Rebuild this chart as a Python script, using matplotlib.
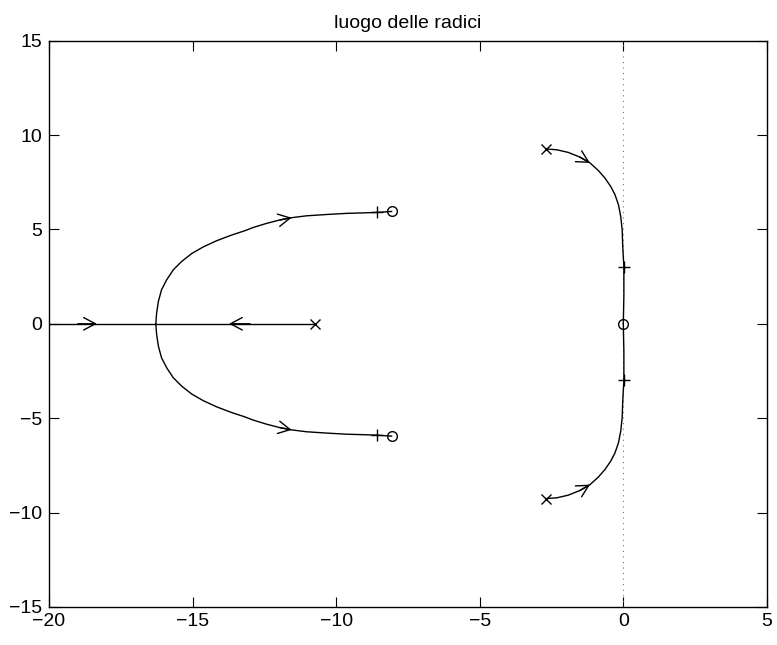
import matplotlib
matplotlib.use("Agg")
import matplotlib.pyplot as plt

plt.rcParams['font.family'] = ['Liberation Sans', 'DejaVu Sans']

title = "luogo delle radici"

# poles, zeros, gain markers
poles_re = [-10.75, -2.70, -2.70]
poles_im = [0.0, 9.26, -9.26]
zeros_re = [-8.07, -8.07, 0.0]
zeros_im = [5.95, -5.95, 0.0]
plus_re = [-8.59, -8.59, 0.02, 0.02]
plus_im = [5.90, -5.90, 3.0, -3.0]

# real-axis branch (from -inf and from pole to breakaway)
real_x = [-20.0, -10.75]
real_y = [0.0, 0.0]

# complex branch from breakaway to zero at -8.07+5.95j (upper half)
left_re = [-16.28, -16.25, -16.19, -16.08, -15.90, -15.67, -15.38, -15.03,
           -14.63, -14.16, -13.64, -13.18, -12.89, -12.42, -11.96, -11.55,
           -11.03, -10.33, -9.63, -8.94, -8.59, -8.07]
left_im = [0.0, 0.57, 1.18, 1.80, 2.33, 2.86, 3.30, 3.72,
           4.07, 4.40, 4.70, 4.93, 5.10, 5.32, 5.50, 5.62,
           5.72, 5.79, 5.85, 5.88, 5.90, 5.95]

# branch from pole -2.70+9.26j to zero at origin (upper half)
right_re = [-2.70, -2.32, -1.92, -1.51, -1.16, -0.87, -0.64, -0.44,
            -0.29, -0.17, -0.09, -0.04, -0.02, 0.02, 0.02, 0.0]
right_im = [9.26, 9.22, 9.08, 8.83, 8.52, 8.12, 7.72, 7.28,
            6.84, 6.31, 5.69, 4.98, 4.10, 3.0, 1.5, 0.0]

# arrow tips and the points they come from (direction)
arrow_tip_x = [-18.33, -13.73, -11.55, -11.55, -1.16, -1.16]
arrow_tip_y = [0.0, 0.0, 5.62, -5.62, 8.52, -8.52]
arrow_from_x = [-19.0, -13.0, -11.96, -11.96, -1.51, -1.51]
arrow_from_y = [0.0, 0.0, 5.50, -5.50, 8.83, -8.83]

xlim = (-20, 5)
ylim = (-15, 15)
xticks = [-20, -15, -10, -5, 0, 5]
yticks = [-15, -10, -5, 0, 5, 10, 15]

fig = plt.figure(figsize=(7.77, 6.45), dpi=100)
ax = fig.add_axes([0.063, 0.059, 0.924, 0.878])

lw = 1.0
ax.plot([0, 0], ylim, color='0.45', lw=0.8, linestyle=(0, (1, 4)))
ax.plot(real_x, real_y, color='k', lw=lw)
ax.plot(left_re, left_im, color='k', lw=lw)
ax.plot(left_re, [-v for v in left_im], color='k', lw=lw)
ax.plot(right_re, right_im, color='k', lw=lw)
ax.plot(right_re, [-v for v in right_im], color='k', lw=lw)

ax.plot(poles_re, poles_im, 'x', color='k', ms=7, mew=1.0)
ax.plot(zeros_re, zeros_im, 'o', mfc='none', mec='k', ms=7, mew=1.0)
ax.plot(plus_re, plus_im, '+', color='k', ms=9, mew=1.0)

for tx, ty, fx, fy in zip(arrow_tip_x, arrow_tip_y, arrow_from_x, arrow_from_y):
    ax.annotate('', xy=(tx, ty), xytext=(fx, fy),
                arrowprops=dict(arrowstyle='->,head_length=0.85,head_width=0.45',
                                color='k', lw=1.0, shrinkA=0, shrinkB=0))

ax.set_xlim(*xlim)
ax.set_ylim(*ylim)
ax.set_xticks(xticks)
ax.set_yticks(yticks)
ax.tick_params(direction='in', length=7, width=0.8, top=True, right=True,
               labelsize=14)
ax.tick_params(axis='x', pad=4)
ax.tick_params(axis='y', pad=5)
for s in ax.spines.values():
    s.set_linewidth(1.0)
ax.set_title(title, fontsize=14, pad=9)

fig.savefig('out.png', dpi=100)
